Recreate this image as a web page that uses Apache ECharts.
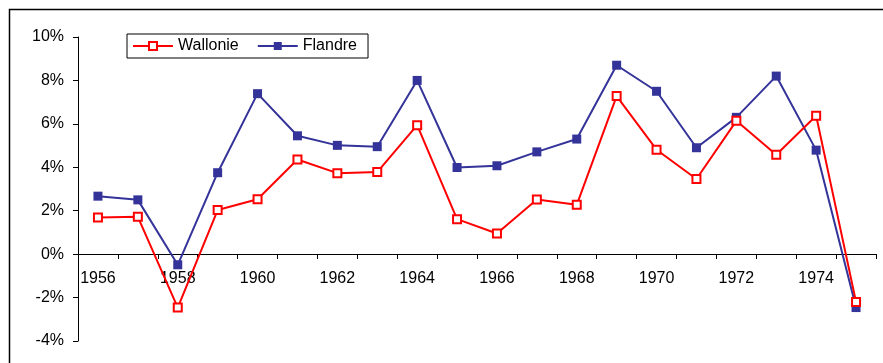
<!DOCTYPE html>
<html><head><meta charset="utf-8">
<script src="https://cdn.jsdelivr.net/npm/echarts@6/dist/echarts.min.js"></script>
<style>html,body{margin:0;padding:0;background:#fff}#c{width:883px;height:363px}</style>
</head><body><div id="c"></div>
<script>
const years = ['1956','1957','1958','1959','1960','1961','1962','1963','1964','1965','1966','1967','1968','1969','1970','1971','1972','1973','1974','1975'];
const wallonie = [1.69,1.72,-2.46,2.03,2.53,4.36,3.73,3.78,5.94,1.61,0.95,2.52,2.27,7.28,4.81,3.46,6.14,4.58,6.37,-2.20];
const flandre = [2.67,2.50,-0.49,3.75,7.39,5.45,5.01,4.95,8.00,3.99,4.07,4.71,5.30,8.70,7.50,4.90,6.30,8.20,4.79,-2.46];
const yTicks = {min:-4, max:10, interval:2};

const chart = echarts.init(document.getElementById('c'), null, {renderer:'canvas'});
chart.setOption({
  animation:false,
  graphic:[{type:'rect', shape:{x:9.5,y:9.5,width:880,height:370}, style:{fill:'none', stroke:'#000', lineWidth:1.5}, z:-1}],
  grid:{left:78, right:7, top:37, bottom:22},
  legend:{
    left:127, top:34, orient:'horizontal',
    borderColor:'#000', borderWidth:1, backgroundColor:'#fff',
    padding:[4,11,4,5], itemGap:18, itemWidth:40, itemHeight:10,
    textStyle:{fontFamily:'Liberation Sans', fontSize:16, color:'#000'},
    data:['Wallonie','Flandre']
  },
  xAxis:{
    type:'category', data:years, boundaryGap:true, position:'bottom', offset:-87,
    axisLine:{onZero:false, lineStyle:{color:'#000', width:1}},
    axisTick:{show:true, interval:0, length:5, lineStyle:{color:'#000'}},
    axisLabel:{interval:1, margin:17, fontFamily:'Liberation Sans', fontSize:16, color:'#000'},
    splitLine:{show:false}
  },
  yAxis:{
    type:'value', min:yTicks.min, max:yTicks.max, interval:yTicks.interval,
    axisLine:{show:true, lineStyle:{color:'#000', width:1}},
    axisTick:{show:true, length:5, lineStyle:{color:'#000'}},
    axisLabel:{formatter:'{value}%', margin:14, fontFamily:'Liberation Sans', fontSize:16, color:'#000'},
    splitLine:{show:false}
  },
  series:[
    {name:'Wallonie', type:'line', data:wallonie, symbol:'rect', symbolSize:8,
     lineStyle:{color:'#ff0000', width:2},
     itemStyle:{color:'#fff', borderColor:'#ff0000', borderWidth:2}, z:3},
    {name:'Flandre', type:'line', data:flandre, symbol:'rect', symbolSize:9,
     lineStyle:{color:'#333399', width:2},
     itemStyle:{color:'#333399', borderColor:'#333399', borderWidth:0}, z:2}
  ]
});
</script></body></html>
